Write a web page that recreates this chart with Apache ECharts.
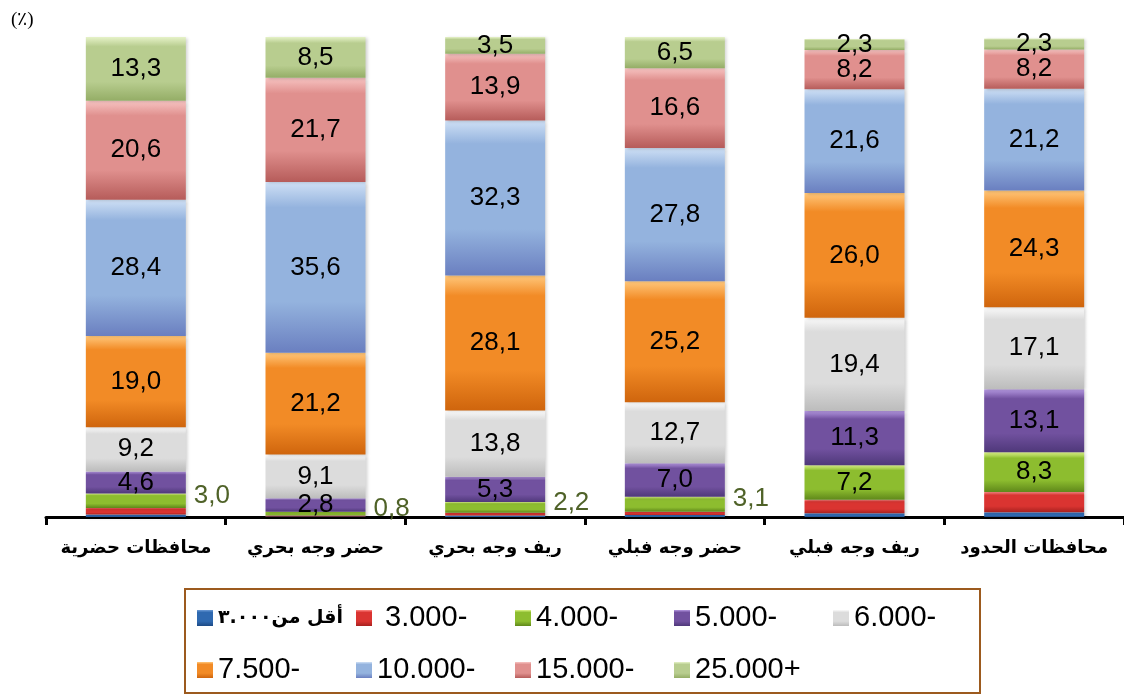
<!DOCTYPE html>
<html>
<head>
<meta charset="utf-8">
<script src="https://cdn.jsdelivr.net/npm/echarts@6/dist/echarts.min.js"></script>
<style>
  html, body { margin: 0; padding: 0; background: #fff; }
  #main { width: 1124px; height: 694px; }
</style>
</head>
<body>
<div id="main"></div>
<script>
// categories (left to right)
var categories = ['محافظات حضرية', 'حضر وجه بحري', 'ريف وجه بحري', 'حضر وجه فبلي', 'ريف وجه فبلي', 'محافظات الحدود'];

// series names
var seriesNames = ['أقل من٣.٠٠٠', ' 3.000-', '4.000-', '5.000-', '6.000-', '7.500-', '10.000-', '15.000-', '25.000+'];

// values (%) per series, one per category
var lessThan3000 = [0.5, 0.1, 0.3, 0.4, 0.8, 1.0];
var from3000 = [1.4, 0.2, 0.6, 0.7, 2.8, 4.2];
var from4000 = [3.0, 0.8, 2.2, 3.1, 7.2, 8.3];
var from5000 = [4.6, 2.8, 5.3, 7.0, 11.3, 13.1];
var from6000 = [9.2, 9.1, 13.8, 12.7, 19.4, 17.1];
var from7500 = [19.0, 21.2, 28.1, 25.2, 26.0, 24.3];
var from10000 = [28.4, 35.6, 32.3, 27.8, 21.6, 21.2];
var from15000 = [20.6, 21.7, 13.9, 16.6, 8.2, 8.2];
var from25000 = [13.3, 8.5, 3.5, 6.5, 2.3, 2.3];

var allValues = [lessThan3000, from3000, from4000, from5000, from6000, from7500, from10000, from15000, from25000];

// bars where the 4.000- value sits outside, to the right
var outsideBars = [0, 1, 2, 3];

// light / base / dark shades for each series
var shades = [
    ['#6d9bd6', '#2f69b0', '#1d4a85'],
    ['#ff8a86', '#da3431', '#a8211f'],
    ['#def58a', '#8dbd2f', '#5f881a'],
    ['#b497e0', '#71519f', '#4f387a'],
    ['#fafafa', '#dcdcdc', '#bcbcbc'],
    ['#ffc77a', '#f28b26', '#cf650d'],
    ['#cfe0f5', '#94b3de', '#6a7fc0'],
    ['#f7c4c2', '#e0908e', '#b65c5a'],
    ['#e6f2c8', '#b8cd8f', '#94ad66']
];

function grad(s) {
    return new echarts.graphic.LinearGradient(0, 0, 0, 1, [
        { offset: 0, color: s[0] },
        { offset: 0.15, color: s[1] },
        { offset: 0.7, color: s[1] },
        { offset: 1, color: s[2] }
    ]);
}

function fmt(p) {
    return Number(p.value).toFixed(1).replace('.', ',');
}

var series = seriesNames.map(function (name, i) {
    var data = allValues[i].map(function (v, j) {
        if (i === 2 && outsideBars.indexOf(j) >= 0) {
            return {
                value: v,
                label: { position: 'right', distance: 8, offset: [0, -5], color: '#4f6228' }
            };
        }
        return v;
    });
    return {
        name: name,
        type: 'bar',
        stack: 'total',
        barWidth: 100,
        data: data,
        itemStyle: {
            color: grad(shades[i]),
            shadowColor: 'rgba(0,0,0,0.18)',
            shadowBlur: 3,
            shadowOffsetX: 2,
            shadowOffsetY: 1
        },
        label: {
            show: i >= 2,
            position: 'inside',
            color: '#000',
            fontFamily: 'Liberation Sans',
            fontSize: 26,
            formatter: fmt
        }
    };
});

var myChart = echarts.init(document.getElementById('main'));
var option = {
    backgroundColor: '#fff',
    animation: false,
    title: {
        text: '(٪)',
        left: 6,
        top: 6,
        textStyle: { fontFamily: 'Liberation Serif', fontSize: 19, fontWeight: 'normal', color: '#000' }
    },
    grid: { left: 46, top: 37, width: 1082, height: 480 },
    legend: {
        left: 185,
        top: 589,
        width: 800,
        padding: [9, 0, 3, 12],
        itemWidth: 16,
        itemHeight: 16,
        itemGap: 12,
        icon: 'rect',
        borderColor: '#9c5a1e',
        borderWidth: 2,
        backgroundColor: '#fff',
        textStyle: {
            fontFamily: 'Liberation Sans',
            fontSize: 29,
            color: '#000',
            width: 126,
            lineHeight: 40
        },
        data: seriesNames.map(function (n, i) {
            if (i === 0) {
                return { name: n, textStyle: { fontFamily: 'DejaVu Sans', fontWeight: 'bold', fontSize: 19, width: 126, overflow: 'truncate' } };
            }
            return { name: n };
        })
    },
    xAxis: {
        type: 'category',
        data: categories,
        axisLine: { show: true, lineStyle: { color: '#000', width: 3 } },
        axisTick: { show: true, interval: 0, length: 8, lineStyle: { color: '#000', width: 3 } },
        axisLabel: {
            interval: 0,
            margin: 22,
            color: '#000',
            fontFamily: 'DejaVu Sans',
            fontWeight: 'bold',
            fontSize: 18
        }
    },
    yAxis: {
        type: 'value',
        min: 0,
        max: 100,
        show: false
    },
    series: series
};
myChart.setOption(option);
</script>
</body>
</html>
